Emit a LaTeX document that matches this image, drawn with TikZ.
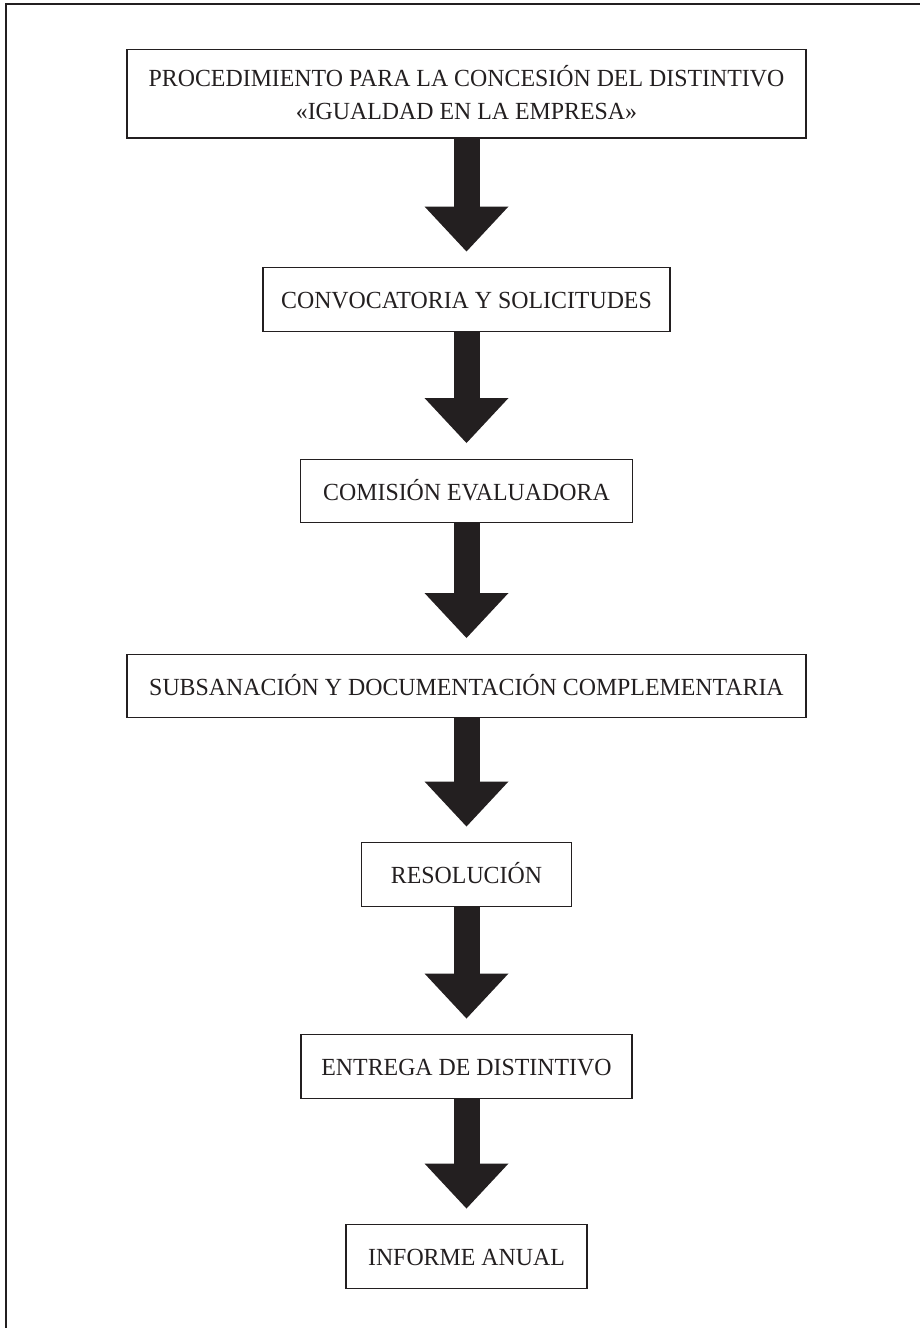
\documentclass[tikz,border=0pt]{standalone}
\usepackage{fontspec}
\setmainfont{Liberation Serif}[FakeStretch=0.97]
\usetikzlibrary{arrows.meta}
\definecolor{ink}{HTML}{231F20}
\begin{document}
\begin{tikzpicture}[x=1pt,y=-1pt,
  stage/.style={draw=ink, line width=1.3pt, rectangle, minimum height=63.5pt,
    inner sep=0pt, text=ink, font=\fontsize{24.6}{33.3}\selectfont,
    anchor=north, align=center, text height=18.6pt, text depth=0pt},
  flow/.style={draw=ink, line width=26pt,
    -{Triangle[width=84pt,length=45pt,line width=0pt]}, shorten >=15.5pt}]
\useasboundingbox (0,0) rectangle (920,1328);
\draw[ink, line width=1.6pt] (920,4) -- (6,4) -- (6,1328);
\node[stage, minimum width=679pt, minimum height=88.3pt, text height=51.8pt, text depth=0pt] (t) at (466.5,49)
  {PROCEDIMIENTO PARA LA CONCESIÓN DEL DISTINTIVO\\«IGUALDAD EN LA EMPRESA»};
\node[stage, minimum width=407pt] (b2) at (466.5,267) {CONVOCATORIA Y SOLICITUDES};
\node[stage, minimum width=332pt] (b3) at (466.5,458.5) {COMISIÓN EVALUADORA};
\node[stage, minimum width=679pt] (b4) at (466.5,653.5) {SUBSANACIÓN Y DOCUMENTACIÓN COMPLEMENTARIA};
\node[stage, minimum width=210.5pt] (b5) at (466.5,842) {RESOLUCIÓN};
\node[stage, minimum width=331pt] (b6) at (466.5,1034) {ENTREGA DE DISTINTIVO};
\node[stage, minimum width=241pt] (b7) at (466.5,1224) {INFORME ANUAL};
\draw[flow] (t.south) -- (b2.north);
\draw[flow] (b2.south) -- (b3.north);
\draw[flow] (b3.south) -- (b4.north);
\draw[flow] (b4.south) -- (b5.north);
\draw[flow] (b5.south) -- (b6.north);
\draw[flow] (b6.south) -- (b7.north);
\end{tikzpicture}
\end{document}
